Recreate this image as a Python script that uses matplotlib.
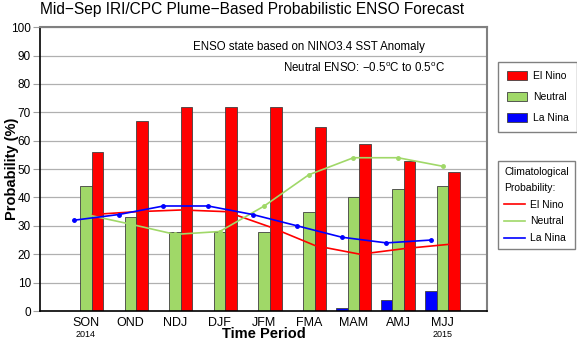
import numpy as np
import matplotlib
matplotlib.use('Agg')
import matplotlib.pyplot as plt
from matplotlib.patches import Patch
from matplotlib.lines import Line2D

plt.rcParams['font.family'] = ['Liberation Sans', 'DejaVu Sans']

# data
seasons = ['SON', 'OND', 'NDJ', 'DJF', 'JFM', 'FMA', 'MAM', 'AMJ', 'MJJ']
elnino = [56, 67, 72, 72, 72, 65, 59, 53, 49]
neutral = [44, 33, 28, 28, 28, 35, 40, 43, 44]
lanina = [0, 0, 0, 0, 0, 0, 1, 4, 7]

clim_elnino = [34, 35, 35.6, 35, 29.5, 23, 20, 22, 23.5]
clim_neutral = [34, 30.6, 27, 28, 37, 48, 54, 54, 51]
clim_lanina = [32, 34, 37, 37, 34, 30, 26, 24, 25]

red = '#ff0000'
green = '#a0d868'
blue = '#0000ff'

x = np.arange(len(seasons))
w = 0.26

fig = plt.figure(figsize=(5.77, 3.42), dpi=100)
ax = fig.add_axes([0.0693, 0.0906, 0.775, 0.830])

ax.bar(x - w, lanina, w, color=blue, edgecolor='#404040', linewidth=0.6, zorder=2)
ax.bar(x, neutral, w, color=green, edgecolor='#404040', linewidth=0.6, zorder=2)
ax.bar(x + w, elnino, w, color=red, edgecolor='#404040', linewidth=0.6, zorder=2)

ax.plot(x + 0.15, clim_elnino, color=red, lw=1.2, zorder=3)
ax.plot(x, clim_neutral, color=green, lw=1.2, marker='o', ms=2.5, zorder=3)
ax.plot(x - w, clim_lanina, color=blue, lw=1.2, marker='o', ms=2.5, zorder=3)

ax.set_xlim(-1.03, 9.0)
ax.set_ylim(0, 100)
ax.set_yticks(range(0, 101, 10))
ax.yaxis.grid(True, color='#b0b0b0', lw=0.9, zorder=0)
ax.set_axisbelow(True)
ax.set_xticks(x)
ax.set_xticklabels(seasons, fontsize=9)
ax.tick_params(axis='x', length=0, pad=4)
ax.tick_params(axis='y', labelsize=8.5, length=5, color='#a0a0a0', pad=1.5)
for s in ['top', 'right']:
    ax.spines[s].set_color('#808080')
    ax.spines[s].set_linewidth(1.5)
ax.spines['left'].set_linewidth(1.2)
ax.spines['bottom'].set_linewidth(1.2)

ax.text(0, -0.066, '2014', transform=ax.get_xaxis_transform(), ha='center', va='top', fontsize=6.5)
ax.text(8, -0.066, '2015', transform=ax.get_xaxis_transform(), ha='center', va='top', fontsize=6.5)

ax.set_xlabel('Time Period', fontsize=10.5, fontweight='bold', labelpad=-1)
ax.set_ylabel('Probability (%)', fontsize=10.5, fontweight='bold', va='center')
ax.yaxis.set_label_coords(-0.063, 0.5)
fig.text(0.4376, 0.971, 'Mid\u2212Sep IRI/CPC Plume\u2212Based Probabilistic ENSO Forecast',
         ha='center', va='center', fontsize=11.2)

ax.text(0.861, 0.93, 'ENSO state based on NINO3.4 SST Anomaly', transform=ax.transAxes,
        ha='right', va='center', fontsize=8.3)
ax.text(0.906, 0.856, 'Neutral ENSO: \u22120.5$^\\mathregular{o}$C to 0.5$^\\mathregular{o}$C',
        transform=ax.transAxes, ha='right', va='center', fontsize=8.3)

h1 = [Patch(facecolor=red, edgecolor='#404040', lw=0.6),
      Patch(facecolor=green, edgecolor='#404040', lw=0.6),
      Patch(facecolor=blue, edgecolor='#404040', lw=0.6)]
leg1 = fig.legend(h1, ['El Nino', 'Neutral', 'La Nina'], loc='upper left',
                  bbox_to_anchor=(0.863, 0.819), fontsize=7.5, frameon=True, fancybox=False,
                  edgecolor='#606060', handlelength=1.95, handleheight=0.95, borderpad=0.85,
                  labelspacing=1.05, handletextpad=0.55, borderaxespad=0)
h2 = [Line2D([], [], color=red, lw=1.2), Line2D([], [], color=green, lw=1.2),
      Line2D([], [], color=blue, lw=1.2)]
leg2 = fig.legend(h2, ['El Nino', 'Neutral', 'La Nina'], loc='upper left',
                  bbox_to_anchor=(0.863, 0.529), fontsize=7.5, frameon=True, fancybox=False,
                  edgecolor='#606060', handlelength=1.95, borderpad=0.6, labelspacing=0.65,
                  handletextpad=0.55, title='Climatological\nProbability:',
                  title_fontsize=7.5, borderaxespad=0)
leg2._legend_box.align = 'left'
leg2.get_title().set_linespacing(1.7)

fig.savefig('out.png', dpi=100)
